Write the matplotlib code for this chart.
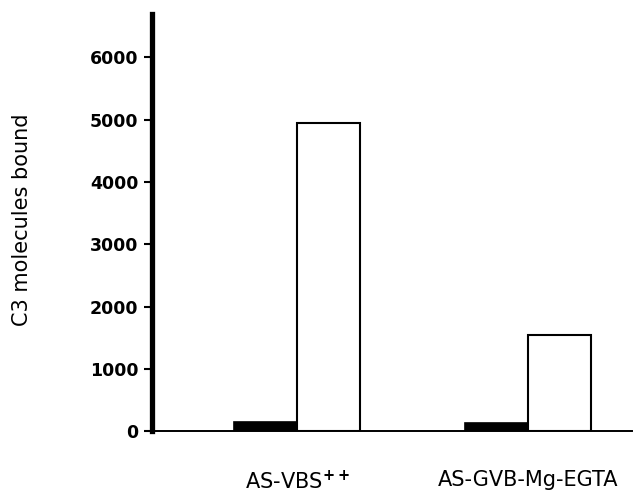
import matplotlib
matplotlib.use("Agg")
import matplotlib.pyplot as plt
import numpy as np

# data
groups = ["AS-VBS$^{\\mathbf{++}}$", "AS-GVB-Mg-EGTA"]
black_vals = [140, 130]
white_vals = [4950, 1550]
yticks = [0, 1000, 2000, 3000, 4000, 5000, 6000]

fig = plt.figure(figsize=(6.34, 4.96), dpi=100)
ax = fig.add_axes([0.24, 0.131, 0.757, 0.841])

x = np.arange(len(groups))
w = 0.273
ax.bar(x - w/2, black_vals, w, color="black", edgecolor="black", linewidth=1.2)
ax.bar(x + w/2, white_vals, w, color="white", edgecolor="black", linewidth=1.5)

ax.set_xlim(-0.628, 1.45)
ax.set_ylim(0, 6700)

ax.spines["top"].set_visible(False)
ax.spines["right"].set_visible(False)
ax.spines["left"].set_linewidth(3.8)
ax.spines["bottom"].set_linewidth(1.4)

ax.set_yticks(yticks)
ax.set_yticklabels([str(t) for t in yticks], fontsize=12.5, fontweight="bold", family="DejaVu Sans")
ax.tick_params(axis="y", length=6, width=1.5, pad=4)

ax.set_xticks(x)
ax.set_xticklabels(groups, fontsize=15, family="DejaVu Sans")
ax.tick_params(axis="x", length=0, pad=28)

ax.set_ylabel("C3 molecules bound", fontsize=15, family="DejaVu Sans")
ax.yaxis.set_label_coords(-0.25, 0.506)

fig.savefig("out.png", dpi=100)
